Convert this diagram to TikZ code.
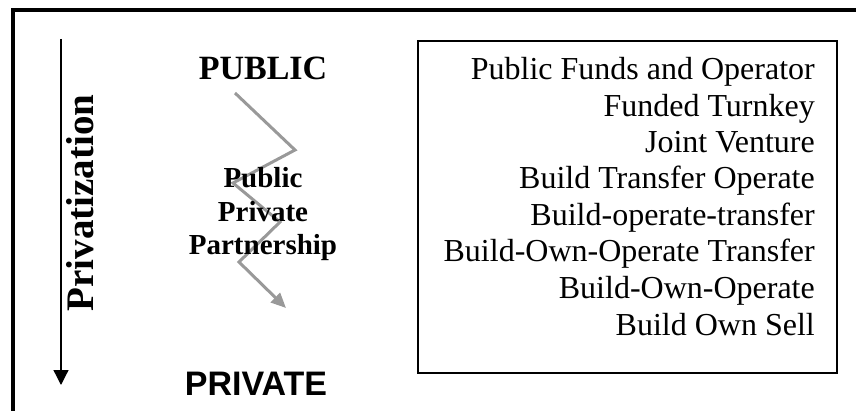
\documentclass[tikz,border=0pt]{standalone}
\usepackage{fontspec}
\setmainfont{Liberation Serif}
\newfontfamily\arialfont{Liberation Sans}
\usetikzlibrary{arrows.meta}
\begin{document}
\begin{tikzpicture}[x=1pt,y=-1pt,
  frame/.style={line width=4pt},
  listbox/.style={draw,line width=1.8pt},
  zig/.style={draw=black!40,line width=3pt,-{Triangle[length=15pt,width=13pt]}},
  lbl/.style={inner sep=0pt,anchor=base},
  item/.style={inner sep=0pt,anchor=base east,font=\fontsize{32}{36}\selectfont}]
\useasboundingbox (0,0) rectangle (856,411);
% outer frame (top and left only visible)
\coordinate (fa) at (13,411);
\coordinate (fb) at (13,10);
\coordinate (fc) at (856,10);
\draw[frame] (fa) -- (fb) -- (fc);
% privatization arrow
\coordinate (pa) at (61,39);
\coordinate (pb) at (61,385);
\draw[line width=1.3pt,-{Triangle[length=15pt,width=15pt]}] (pa) -- (pb);
\node[rotate=90,inner sep=0pt,font=\bfseries\fontsize{39}{39}\selectfont] (priv) at (80,203) {Privatization};
% zigzag (under the text)
\coordinate (z0) at (235,93);
\coordinate (z1) at (295,150);
\coordinate (z2) at (233,183);
\coordinate (z3) at (280,222);
\coordinate (z4) at (239,262);
\coordinate (z5) at (286,308);
\draw[zig] (z0) -- (z1) -- (z2) -- (z3) -- (z4) -- (z5);
% labels
\node[lbl,font=\bfseries\fontsize{34}{34}\selectfont] (public) at (263,80) {PUBLIC};
\node[lbl,font=\arialfont\bfseries\fontsize{34}{34}\selectfont] (private) at (256,395) {PRIVATE};
\node[lbl,font=\bfseries\fontsize{29}{29}\selectfont] (ppp1) at (263,188) {Public};
\node[lbl,font=\bfseries\fontsize{29}{29}\selectfont] (ppp2) at (263,222) {Private};
\node[lbl,font=\bfseries\fontsize{29}{29}\selectfont] (ppp3) at (263,255) {Partnership};
% list box
\node[listbox,minimum width=419pt,minimum height=332pt,inner sep=0pt,anchor=north west] (box) at (417,40) {};
\node[item] (i1) at (815,80) {Public Funds and Operator};
\node[item] (i2) at (815,117) {Funded Turnkey};
\node[item] (i3) at (815,153) {Joint Venture};
\node[item] (i4) at (815,189) {Build Transfer Operate};
\node[item] (i5) at (815,226) {Build-operate-transfer};
\node[item] (i6) at (815,262) {Build-Own-Operate Transfer};
\node[item] (i7) at (815,299) {Build-Own-Operate};
\node[item] (i8) at (815,335) {Build Own Sell};
\end{tikzpicture}
\end{document}
